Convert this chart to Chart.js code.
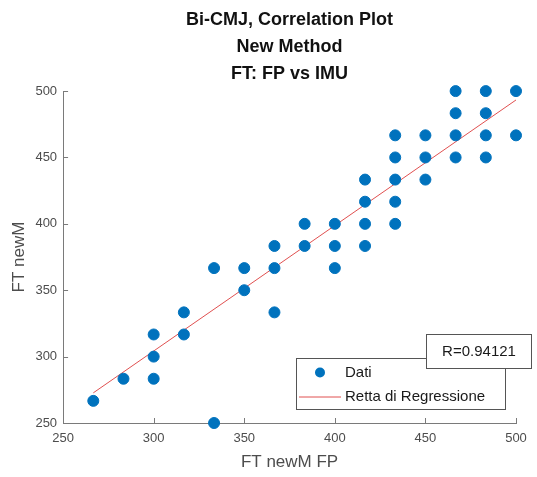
<!DOCTYPE html>
<html>
<head>
<meta charset="utf-8">
<script src="https://cdn.jsdelivr.net/npm/chart.js@4/dist/chart.umd.min.js"></script>
<style>
  html, body { margin: 0; padding: 0; background: #fff; }
  #wrap { width: 537px; height: 477px; }
</style>
</head>
<body>
<div id="wrap"><canvas id="corrChart" width="537" height="477"></canvas></div>
<script>
// FT measured by force platform (x) vs IMU new method (y), ms
const ftFP = [266.67, 283.33, 300, 300, 300, 316.67, 316.67, 333.33, 333.33, 350, 350,
  366.67, 366.67, 366.67, 383.33, 383.33, 400, 400, 400, 416.67, 416.67, 416.67, 416.67,
  433.33, 433.33, 433.33, 433.33, 433.33, 450, 450, 450, 466.67, 466.67, 466.67, 466.67,
  483.33, 483.33, 483.33, 483.33, 500, 500];
const ftIMU = [266.67, 283.33, 283.33, 300, 316.67, 316.67, 333.33, 250, 366.67, 366.67, 350,
  366.67, 333.33, 383.33, 383.33, 400, 383.33, 400, 366.67, 383.33, 400, 416.67, 433.33,
  400, 416.67, 433.33, 450, 466.67, 433.33, 450, 466.67, 450, 466.67, 483.33, 500,
  450, 466.67, 483.33, 500, 466.67, 500];

// regression line end points
const fitX = [266.67, 500];
const fitY = [272.7, 493.3];

const axisTicks = [250, 300, 350, 400, 450, 500];
const rValue = 'R=0.94121';
const legendLabels = ['Dati', 'Retta di Regressione'];
const titleLines = ['Bi-CMJ, Correlation Plot', 'New Method', 'FT: FP vs IMU'];

const BLUE = '#0072BD';
const RED = '#e05050';
const AXIS = '#7a7a7a';
const FONT = '"Liberation Sans", Arial, Helvetica, sans-serif';

// inward tick marks, legend box and R annotation
const matlabDecor = {
  id: 'matlabDecor',
  afterDraw(chart) {
    const { ctx, chartArea: a, scales: { x, y } } = chart;
    ctx.save();
    ctx.strokeStyle = AXIS;
    ctx.lineWidth = 1;
    ctx.beginPath();
    axisTicks.forEach(v => {
      const px = Math.round(x.getPixelForValue(v)) + 0.5;
      ctx.moveTo(px, a.bottom);
      ctx.lineTo(px, a.bottom - 5);
      const py = Math.round(y.getPixelForValue(v)) + 0.5;
      ctx.moveTo(a.left, py);
      ctx.lineTo(a.left + 5, py);
    });
    ctx.stroke();

    // legend
    const lx = a.right - 220, ly = a.bottom - 65, lw = 209, lh = 51;
    ctx.fillStyle = '#fff';
    ctx.fillRect(lx, ly, lw, lh);
    ctx.strokeStyle = '#555';
    ctx.strokeRect(lx + 0.5, ly + 0.5, lw, lh);
    ctx.fillStyle = BLUE;
    ctx.beginPath();
    ctx.arc(lx + 24, ly + 14.5, 5, 0, Math.PI * 2);
    ctx.fill();
    ctx.strokeStyle = RED;
    ctx.beginPath();
    ctx.moveTo(lx + 3, ly + 39);
    ctx.lineTo(lx + 45, ly + 39);
    ctx.stroke();
    ctx.fillStyle = '#1a1a1a';
    ctx.font = '15px ' + FONT;
    ctx.textBaseline = 'middle';
    ctx.fillText(legendLabels[0], lx + 49, ly + 15);
    ctx.fillText(legendLabels[1], lx + 49, ly + 39);

    // correlation coefficient
    const rx = a.right - 90, ry = a.bottom - 89, rw = 105, rh = 34;
    ctx.fillStyle = '#fff';
    ctx.fillRect(rx, ry, rw, rh);
    ctx.strokeStyle = '#555';
    ctx.strokeRect(rx + 0.5, ry + 0.5, rw, rh);
    ctx.fillStyle = '#1a1a1a';
    ctx.textAlign = 'center';
    ctx.fillText(rValue, rx + rw / 2 + 0.5, ry + rh / 2 + 1);
    ctx.restore();
  }
};

new Chart(document.getElementById('corrChart'), {
  type: 'scatter',
  data: {
    datasets: [{
      label: legendLabels[0],
      data: ftFP.map((v, i) => ({ x: v, y: ftIMU[i] })),
      backgroundColor: BLUE,
      borderColor: BLUE,
      pointRadius: 5.5,
      pointHoverRadius: 5.5,
      clip: false
    }, {
      label: legendLabels[1],
      type: 'line',
      data: fitX.map((v, i) => ({ x: v, y: fitY[i] })),
      borderColor: RED,
      borderWidth: 1,
      pointRadius: 0,
      fill: false
    }]
  },
  options: {
    responsive: false,
    animation: false,
    layout: { padding: { left: 5, right: 21, top: 0, bottom: 0 } },
    scales: {
      x: {
        type: 'linear', min: 250, max: 500,
        afterBuildTicks: s => { s.ticks = axisTicks.map(v => ({ value: v })); },
        grid: { display: false, drawTicks: false },
        border: { display: true, color: AXIS, width: 1 },
        ticks: { color: '#4d4d4d', font: { family: FONT, size: 13 }, padding: 8 },
        title: { display: true, text: 'FT newM FP', color: '#4d4d4d', font: { family: FONT, size: 17 }, padding: { top: -2, bottom: 4 } }
      },
      y: {
        type: 'linear', min: 250, max: 500,
        afterBuildTicks: s => { s.ticks = axisTicks.map(v => ({ value: v })); },
        grid: { display: false, drawTicks: false },
        border: { display: true, color: AXIS, width: 1 },
        ticks: { color: '#4d4d4d', font: { family: FONT, size: 13 }, padding: 6 },
        title: { display: true, text: 'FT newM', color: '#4d4d4d', font: { family: FONT, size: 17 }, padding: { top: 4, bottom: 0 } }
      }
    },
    plugins: {
      legend: { display: false },
      tooltip: { enabled: false },
      title: {
        display: true,
        fullSize: false,
        text: titleLines,
        color: '#111',
        font: { family: FONT, size: 18, weight: 'bold', lineHeight: 1.52 },
        padding: { top: 6, bottom: 3 }
      }
    }
  },
  plugins: [matlabDecor]
});
</script>
</body>
</html>
